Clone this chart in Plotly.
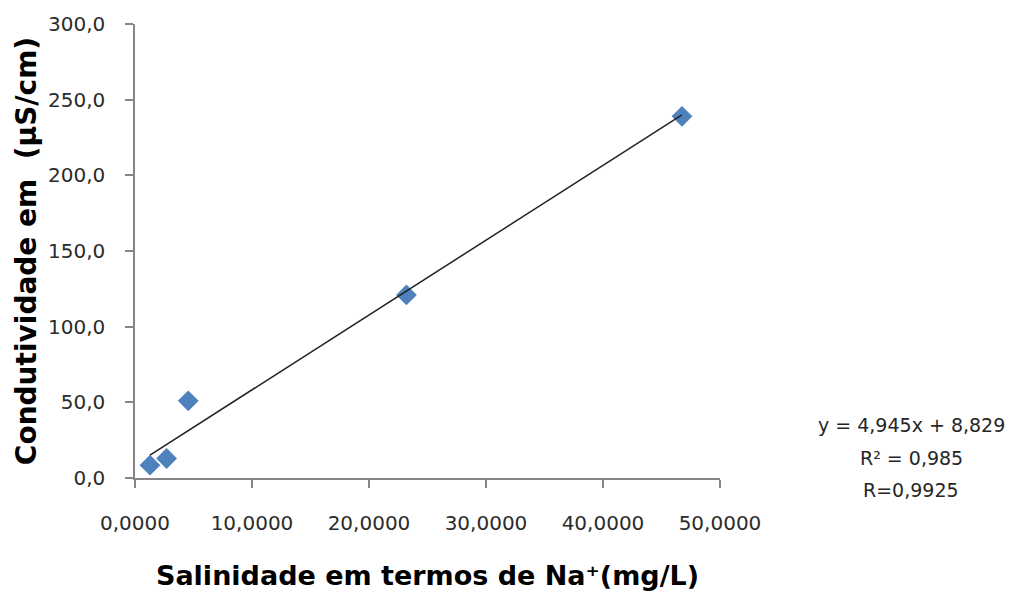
import plotly.graph_objects as go

# Salinity (Na+, mg/L) vs. measured conductivity (µS/cm)
salinidade = [1.28, 2.7, 4.55, 23.2, 46.75]
condutividade = [8.5, 12.9, 51.0, 121.0, 239.0]

# Linear fit reported for the series
slope = 4.945
intercept = 8.829
r_squared = 0.985
r_value = 0.9925

x_ticks = [0, 10, 20, 30, 40, 50]
y_ticks = [0, 50, 100, 150, 200, 250, 300]

fit_x = [min(salinidade), max(salinidade)]
fit_y = [slope * v + intercept for v in fit_x]

def br(v, nd):
    return f"{v:.{nd}f}".replace(".", ",")

fig = go.Figure()

fig.add_trace(go.Scatter(
    x=salinidade, y=condutividade, mode="markers",
    marker=dict(symbol="diamond", size=16, color="#4F81BD",
                line=dict(width=0)),
    showlegend=False, cliponaxis=False,
))

fig.add_trace(go.Scatter(
    x=fit_x, y=fit_y, mode="lines",
    line=dict(color="#222222", width=1.5),
    showlegend=False,
))

tick_font = dict(family="DejaVu Sans", size=20, color="#2b2b2b")
x_title_font = dict(family="DejaVu Sans", size=27, color="#000000", weight="bold")
y_title_font = dict(family="DejaVu Sans", size=28, color="#000000", weight="bold")

# Fit statistics, one line per annotation for Excel-like spacing
stat_lines = [
    f"y = {br(slope, 3)}x + {br(intercept, 3)}",
    f"R² = {br(r_squared, 3)}",
    f"R={br(r_value, 4)}",
]
stat_y_px = [425, 458, 490]
annotations = [
    dict(xref="paper", yref="paper",
         x=(911 - 135) / (1013 - 135 - 293), y=(478 - py) / (478 - 20),
         xanchor="center", yanchor="middle", showarrow=False,
         text=t, font=dict(family="DejaVu Sans", size=19, color="#262626"))
    for t, py in zip(stat_lines, stat_y_px)
]

fig.update_layout(
    width=1013, height=599,
    margin=dict(l=135, r=293, t=20, b=121),
    paper_bgcolor="white", plot_bgcolor="white",
    separators=",.",
    xaxis=dict(
        range=[0, 50], tickvals=x_ticks, tickformat=".4f",
        showgrid=False, zeroline=False,
        showline=True, linecolor="#868686", linewidth=1.5,
        ticks="outside", ticklen=8, tickcolor="#868686", tickwidth=1.5,
        tickfont=tick_font, ticklabelstandoff=18,
        title=dict(text="Salinidade em termos de Na⁺(mg/L)",
                   font=x_title_font, standoff=32),
    ),
    yaxis=dict(
        range=[0, 300], tickvals=y_ticks, tickformat=".1f",
        showgrid=False, zeroline=False,
        showline=True, linecolor="#868686", linewidth=1.5,
        ticks="outside", ticklen=8, tickcolor="#868686", tickwidth=1.5,
        tickfont=tick_font, ticklabelstandoff=16,
        title=dict(text="Condutividade em  (µS/cm)",
                   font=y_title_font, standoff=3),
    ),
    annotations=annotations,
)

fig.write_html("out.html")
